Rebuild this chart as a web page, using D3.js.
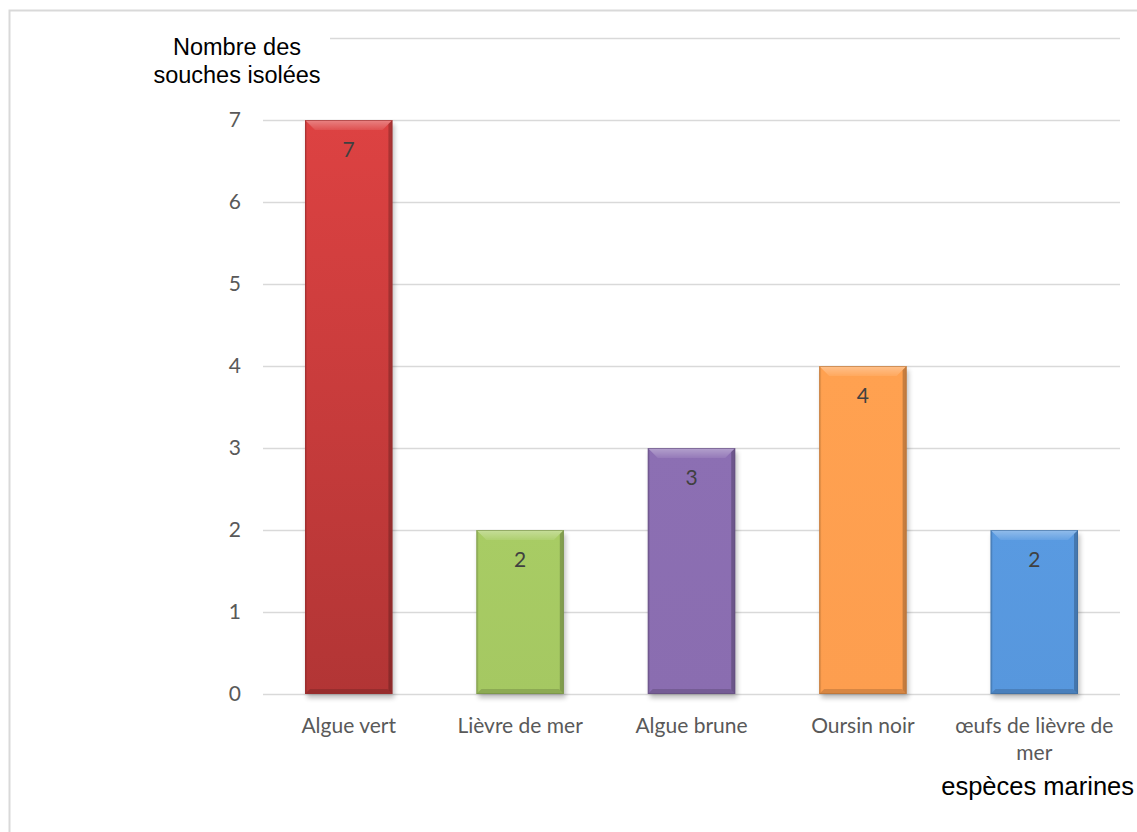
<!DOCTYPE html>
<html>
<head>
<meta charset="utf-8">
<title>Nombre des souches isolées</title>
<script src="https://d3js.org/d3.v7.min.js"></script>
<style>
  body { margin: 0; background: #fff; }
  svg { display: block; }
  .tick text { font-family: Lato, "Open Sans", sans-serif; font-size: 21px; fill: #595959; }
</style>
</head>
<body>
<svg id="chart" width="1137" height="832"></svg>
<script>
// data
var categories = ["Algue vert", "Lièvre de mer", "Algue brune", "Oursin noir", "œufs de lièvre de mer"];
var values = [7, 2, 3, 4, 2];
var barColors = ["#d94141", "#a5c862", "#8a6db0", "#fd9e4f", "#5797dd"];
var yTicks = [0, 1, 2, 3, 4, 5, 6, 7, 8];

var svg = d3.select("#chart");
var margin = {left: 263, right: 17, top: 38, bottom: 138};
var width = 1137, height = 832;

// chart border (runs off the right and bottom)
svg.append("rect")
  .attr("x", 9.5).attr("y", 10.5)
  .attr("width", 1200).attr("height", 900)
  .attr("fill", "none").attr("stroke", "#d9d9d9").attr("stroke-width", 2);

var x = d3.scaleBand()
  .domain(categories)
  .range([margin.left, width - margin.right])
  .paddingInner(0.49).paddingOuter(0.245);

var y = d3.scaleLinear().domain([0, 8]).range([height - margin.bottom, margin.top]);

// gridlines
svg.append("g").selectAll("line")
  .data(yTicks)
  .join("line")
  .attr("x1", margin.left).attr("x2", width - margin.right)
  .attr("y1", function(d) { return Math.round(y(d)) + 0.5; })
  .attr("y2", function(d) { return Math.round(y(d)) + 0.5; })
  .attr("stroke", "#d9d9d9").attr("stroke-width", 1.5);

// y tick labels (0..7)
var yAxis = svg.append("g")
  .attr("transform", "translate(" + margin.left + ",0)")
  .call(d3.axisLeft(y).tickValues(yTicks.slice(0, 8)).tickSize(0).tickPadding(22).tickFormat(d3.format("d")));
yAxis.select(".domain").remove();

// defs: gradients and shadow
var defs = svg.append("defs");
barColors.forEach(function(c, i) {
  var g = defs.append("linearGradient").attr("id", "grad" + i)
    .attr("x1", 0).attr("y1", 0).attr("x2", 0).attr("y2", 1);
  g.append("stop").attr("offset", "0%").attr("stop-color", d3.color(c).brighter(0.05));
  g.append("stop").attr("offset", "100%").attr("stop-color", i == 0 ? d3.color(c).darker(0.55) : c);
});
var blur = defs.append("filter").attr("id", "shadow").attr("x", "-20%").attr("y", "-20%").attr("width", "140%").attr("height", "140%");
blur.append("feGaussianBlur").attr("stdDeviation", 2.5);
var topGrad = defs.append("linearGradient").attr("id", "topbevel")
  .attr("x1", 0).attr("y1", 0).attr("x2", 0).attr("y2", 1);
topGrad.append("stop").attr("offset", "0%").attr("stop-color", "#fff").attr("stop-opacity", 0.35);
topGrad.append("stop").attr("offset", "100%").attr("stop-color", "#fff").attr("stop-opacity", 0.08);

var bars = svg.append("g").selectAll("g")
  .data(categories)
  .join("g");

// shadows
bars.append("rect")
  .attr("x", function(d) { return x(d) + 2; })
  .attr("y", function(d, i) { return y(values[i]) + 4; })
  .attr("width", x.bandwidth())
  .attr("height", function(d, i) { return y(0) - y(values[i]); })
  .attr("fill", "#000").attr("opacity", 0.25)
  .attr("filter", "url(#shadow)");

// main body
bars.append("rect")
  .attr("x", function(d) { return x(d); })
  .attr("y", function(d, i) { return y(values[i]); })
  .attr("width", x.bandwidth())
  .attr("height", function(d, i) { return y(0) - y(values[i]); })
  .attr("fill", function(d, i) { return "url(#grad" + i + ")"; });

// bevel edges
var bv = 10;
function bevel(side) {
  return function(d, i) {
    var x0 = x(d), x1 = x(d) + x.bandwidth(), t = y(values[i]), b = y(0);
    var s = side === "top" ? bv : side === "bottom" ? 5 : side === "left" ? 2 : 4;
    if (side === "top") return [[x0, t], [x1, t], [x1 - s, t + s], [x0 + s, t + s]].join(" ");
    if (side === "bottom") return [[x0, b], [x1, b], [x1 - s, b - s], [x0 + s, b - s]].join(" ");
    if (side === "left") return [[x0, t], [x0 + s, t + s], [x0 + s, b - s], [x0, b]].join(" ");
    return [[x1, t], [x1 - s, t + s], [x1 - s, b - s], [x1, b]].join(" ");
  };
}
bars.append("polygon").attr("points", bevel("top"))
  .attr("fill", "url(#topbevel)");
bars.append("polygon").attr("points", bevel("left"))
  .attr("fill", "#000").attr("opacity", 0.08);
bars.append("polygon").attr("points", bevel("right"))
  .attr("fill", "#000").attr("opacity", 0.22);
bars.append("polygon").attr("points", bevel("bottom"))
  .attr("fill", "#000").attr("opacity", 0.15);
bars.append("rect")
  .attr("x", function(d) { return x(d) + 0.5; })
  .attr("y", function(d, i) { return y(values[i]) + 0.5; })
  .attr("width", x.bandwidth() - 1)
  .attr("height", function(d, i) { return y(0) - y(values[i]) - 1; })
  .attr("fill", "none")
  .attr("stroke", function(d, i) { return d3.color(barColors[i]).darker(1); })
  .attr("stroke-opacity", 0.6);

// data labels
bars.append("text")
  .attr("x", function(d) { return x(d) + x.bandwidth() / 2; })
  .attr("y", function(d, i) { return y(values[i]) + 37; })
  .attr("text-anchor", "middle")
  .style("font-family", "Lato, 'Open Sans', sans-serif")
  .style("font-size", "21px")
  .style("fill", "#404040")
  .text(function(d, i) { return values[i]; });

// category labels (wrap the long one)
var catLines = {"œufs de lièvre de mer": ["œufs de lièvre de", "mer"]};
var xl = svg.append("g").selectAll("text")
  .data(categories)
  .join("text")
  .attr("x", function(d) { return x(d) + x.bandwidth() / 2; })
  .attr("y", 733)
  .attr("text-anchor", "middle")
  .style("font-family", "Lato, 'Open Sans', sans-serif")
  .style("font-size", "21px")
  .style("fill", "#595959");
xl.each(function(d) {
  var lines = catLines[d] || [d];
  var t = d3.select(this);
  lines.forEach(function(l, k) {
    t.append("tspan").attr("x", x(d) + x.bandwidth() / 2).attr("dy", k ? 27 : 0).text(l);
  });
});

// y axis title with white background over top gridline
svg.append("rect").attr("x", 140).attr("y", 30).attr("width", 190).attr("height", 60).attr("fill", "#fff");
var yt = svg.append("text")
  .attr("text-anchor", "middle")
  .style("font-family", "'Liberation Sans', Arial, sans-serif")
  .style("font-size", "23.5px")
  .style("fill", "#000");
yt.append("tspan").attr("x", 237).attr("y", 55).text("Nombre des");
yt.append("tspan").attr("x", 237).attr("y", 83).text("souches isolées");

// x axis title
svg.append("text")
  .attr("x", 1134).attr("y", 795)
  .attr("text-anchor", "end")
  .style("font-family", "'Liberation Sans', Arial, sans-serif")
  .style("font-size", "25.5px")
  .style("fill", "#000")
  .text("espèces marines");
</script>
</body>
</html>
